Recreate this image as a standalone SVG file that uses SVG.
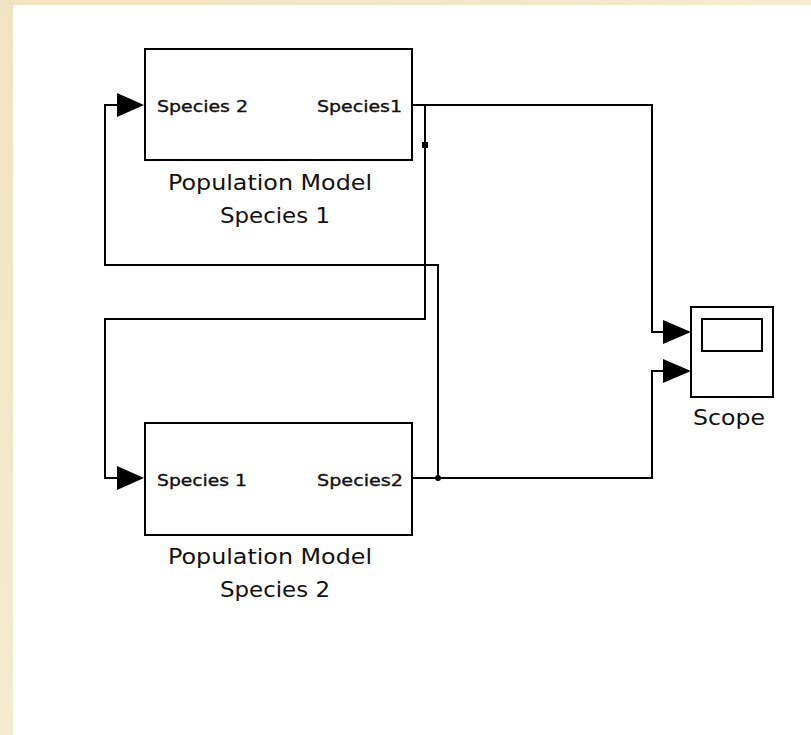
<svg xmlns="http://www.w3.org/2000/svg" width="811" height="735" viewBox="0 0 811 735">
  <style>
    .blk { fill: #ffffff; stroke: #000000; stroke-width: 2; }
    .wire { fill: none; stroke: #000000; stroke-width: 2; }
    .port { font-family: "DejaVu Sans", "Liberation Sans", sans-serif; font-size: 16px; fill: #111111; stroke: #111111; stroke-width: 0.35; }
    .name { font-family: "DejaVu Sans", "Liberation Sans", sans-serif; font-size: 21px; fill: #111111; text-anchor: middle; }
    .arrow { fill: #000000; }
  </style>
  <defs>
    <linearGradient id="parch" x1="0" y1="0" x2="1" y2="1">
      <stop offset="0" stop-color="#F1E2C2"/>
      <stop offset="0.5" stop-color="#F6EAD0"/>
      <stop offset="1" stop-color="#F2E4C6"/>
    </linearGradient>
  </defs>
  <rect x="0" y="0" width="811" height="735" fill="url(#parch)"/>
  <rect x="13" y="5" width="798" height="730" fill="#ffffff"/>

  <g id="connectors">
    <!-- Species1 output to Scope input 1 -->
    <polyline class="wire" points="412,105 652,105 652,332 665,332"/>
    <!-- Species2 output to Scope input 2 -->
    <polyline class="wire" points="413,478 652,478 652,371 665,371"/>
    <!-- branch from Species1 to Block 2 input -->
    <polyline class="wire" points="425,105 425,319 105,319 105,478 120,478"/>
    <!-- branch from Species2 to Block 1 input -->
    <polyline class="wire" points="438,478 438,265 105,265 105,105 120,105"/>
    <!-- branch dots -->
    <rect x="422" y="142" width="6" height="6" fill="#000000"/>
    <circle cx="438" cy="478" r="3" fill="#000000"/>
    <!-- arrowheads -->
    <polygon class="arrow" points="117,93 144,105 117,117"/>
    <polygon class="arrow" points="117,466 144,478 117,490"/>
    <polygon class="arrow" points="663,320 691,332 663,344"/>
    <polygon class="arrow" points="663,359 691,371 663,383"/>
  </g>

  <g id="block1">
    <rect class="blk" x="145" y="49" width="267" height="111"/>
    <text class="port" x="157" y="112" textLength="91" lengthAdjust="spacingAndGlyphs">Species 2</text>
    <text class="port" x="317" y="112" textLength="85" lengthAdjust="spacingAndGlyphs">Species1</text>
    <text class="name" x="270" y="190" textLength="204" lengthAdjust="spacingAndGlyphs">Population Model</text>
    <text class="name" x="275" y="223" textLength="110" lengthAdjust="spacingAndGlyphs">Species 1</text>
  </g>

  <g id="block2">
    <rect class="blk" x="145" y="423" width="267" height="112"/>
    <text class="port" x="157" y="486" textLength="90" lengthAdjust="spacingAndGlyphs">Species 1</text>
    <text class="port" x="317" y="486" textLength="86" lengthAdjust="spacingAndGlyphs">Species2</text>
    <text class="name" x="270" y="564" textLength="204" lengthAdjust="spacingAndGlyphs">Population Model</text>
    <text class="name" x="275" y="597" textLength="110" lengthAdjust="spacingAndGlyphs">Species 2</text>
  </g>

  <g id="scope">
    <rect class="blk" x="691" y="307" width="82" height="90"/>
    <rect class="blk" x="702" y="319" width="60" height="32"/>
    <text class="name" x="729" y="425" textLength="72" lengthAdjust="spacingAndGlyphs">Scope</text>
  </g>
</svg>
